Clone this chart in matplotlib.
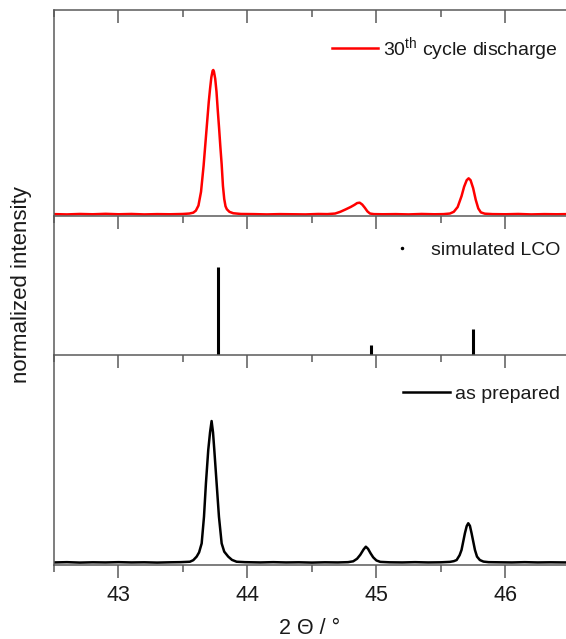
import matplotlib
matplotlib.use("Agg")
import matplotlib.pyplot as plt
from matplotlib.lines import Line2D
from matplotlib.ticker import MultipleLocator

plt.rcParams['font.family'] = ['Liberation Sans', 'DejaVu Sans']
plt.rcParams['mathtext.fontset'] = 'custom'
plt.rcParams['mathtext.rm'] = 'Liberation Sans'
plt.rcParams['mathtext.it'] = 'Liberation Sans:italic'

# ---------------- data ----------------
red_x = [42.50, 42.60, 42.70, 42.80, 42.90, 43.00, 43.10, 43.20, 43.30, 43.40,
         43.50, 43.55, 43.58, 43.60, 43.62, 43.64, 43.66, 43.68, 43.70, 43.71,
         43.72, 43.73, 43.735, 43.74, 43.75, 43.76, 43.77, 43.78, 43.79, 43.80,
         43.81, 43.82, 43.83, 43.84, 43.86, 43.89, 43.95, 44.05, 44.15, 44.25,
         44.35, 44.45, 44.55, 44.62, 44.68, 44.72, 44.76, 44.80, 44.83, 44.85,
         44.87, 44.89, 44.91, 44.93, 44.95, 44.98, 45.05, 45.15, 45.25, 45.35,
         45.45, 45.52, 45.57, 45.60, 45.63, 45.66, 45.68, 45.70, 45.715, 45.73,
         45.75, 45.77, 45.79, 45.81, 45.84, 45.90, 46.00, 46.10, 46.20, 46.30,
         46.40, 46.47]
red_y = [0.006, 0.004, 0.007, 0.005, 0.008, 0.005, 0.007, 0.004, 0.006, 0.005,
         0.007, 0.010, 0.016, 0.030, 0.065, 0.160, 0.340, 0.560, 0.780, 0.870,
         0.950, 0.995, 1.000, 0.990, 0.940, 0.850, 0.720, 0.600, 0.470, 0.350,
         0.200, 0.110, 0.060, 0.040, 0.022, 0.012, 0.007, 0.006, 0.004, 0.006,
         0.005, 0.004, 0.007, 0.006, 0.010, 0.022, 0.038, 0.055, 0.070, 0.082,
         0.085, 0.072, 0.050, 0.025, 0.010, 0.006, 0.005, 0.006, 0.004, 0.007,
         0.005, 0.006, 0.010, 0.022, 0.055, 0.130, 0.195, 0.240, 0.253, 0.240,
         0.185, 0.105, 0.045, 0.018, 0.009, 0.006, 0.005, 0.007, 0.004, 0.006,
         0.005, 0.006]

stick_pos = [43.769, 44.957, 45.746]
stick_h = [1.0, 0.114, 0.295]

black_x = [42.50, 42.60, 42.70, 42.80, 42.90, 43.00, 43.10, 43.20, 43.30, 43.40,
           43.48, 43.554, 43.58, 43.606, 43.625, 43.645, 43.663, 43.678, 43.696, 43.71,
           43.722, 43.733, 43.743, 43.761, 43.779, 43.80, 43.82, 43.851, 43.88, 43.916,
           43.98, 44.10, 44.20, 44.30, 44.40, 44.50, 44.60, 44.70, 44.78, 44.82,
           44.85, 44.875, 44.90, 44.918, 44.935, 44.955, 44.975, 45.00, 45.03, 45.10,
           45.20, 45.30, 45.40, 45.50, 45.57, 45.60, 45.622, 45.645, 45.66, 45.686,
           45.70, 45.712, 45.725, 45.738, 45.764, 45.78, 45.802, 45.83, 45.87, 45.95,
           46.05, 46.15, 46.25, 46.35, 46.47]
black_y = [0.004, 0.006, 0.003, 0.005, 0.004, 0.006, 0.004, 0.005, 0.003, 0.005,
           0.006, 0.009, 0.020, 0.045, 0.075, 0.138, 0.326, 0.561, 0.796, 0.920,
           1.000, 0.920, 0.796, 0.561, 0.326, 0.138, 0.080, 0.045, 0.022, 0.009,
           0.006, 0.004, 0.006, 0.004, 0.005, 0.003, 0.005, 0.004, 0.006, 0.012,
           0.030, 0.058, 0.095, 0.115, 0.100, 0.068, 0.040, 0.018, 0.008, 0.005,
           0.004, 0.006, 0.004, 0.005, 0.008, 0.013, 0.021, 0.055, 0.092, 0.209,
           0.260, 0.280, 0.262, 0.209, 0.092, 0.045, 0.021, 0.010, 0.006, 0.005,
           0.004, 0.006, 0.004, 0.005, 0.004]

xlim = (42.5, 46.47)

label_red = "30$^{\\mathrm{th}}$ cycle discharge"
label_sim = "simulated LCO"
label_black = "as prepared"

# ---------------- figure ----------------
W, H = 566, 639
fig = plt.figure(figsize=(W / 100, H / 100), dpi=100)

spine_c = '#5a5a5a'
text_c = '#1a1a1a'
MAJ, MIN = 9.4, 4.7


def frac_rect(top_px, bot_px):
    return [54 / W, (H - bot_px) / H, (W - 54) / W, (bot_px - top_px) / H]


def set_locators(axis):
    axis.set_major_locator(MultipleLocator(1))
    axis.set_minor_locator(MultipleLocator(0.5))


ax1 = fig.add_axes(frac_rect(10, 216))
ax2 = fig.add_axes(frac_rect(216, 355))
ax3 = fig.add_axes(frac_rect(355, 565))

for ax in (ax1, ax2, ax3):
    ax.set_xlim(*xlim)
    set_locators(ax.xaxis)
    ax.set_yticks([])
    ax.spines['right'].set_visible(False)
    for s in ('top', 'left', 'bottom'):
        ax.spines[s].set_color(spine_c)
        ax.spines[s].set_linewidth(1.1)
    ax.patch.set_alpha(0)

# top and middle panels: only inward ticks on the top edge
for ax in (ax1, ax2):
    ax.spines['bottom'].set_visible(False)
    ax.tick_params(axis='x', which='both', top=True, bottom=False,
                   labeltop=False, labelbottom=False, direction='in',
                   color=spine_c, width=1.1)
    ax.tick_params(axis='x', which='major', length=MAJ)
    ax.tick_params(axis='x', which='minor', length=MIN)

# bottom panel: outward labelled ticks at the bottom
ax3.tick_params(axis='x', which='both', top=False, bottom=True,
                labelbottom=True, direction='out', color=spine_c, width=1.1)
ax3.tick_params(axis='x', which='major', length=MAJ, pad=5, labelsize=15.5,
                labelcolor=text_c)
ax3.tick_params(axis='x', which='minor', length=MIN)
ax3.spines['top'].set_visible(False)

# inward ticks on the top edge of the bottom panel
sec = ax3.secondary_xaxis('top')
set_locators(sec.xaxis)
sec.tick_params(axis='x', which='both', direction='in', color=spine_c,
                width=1.1, labeltop=False)
sec.tick_params(axis='x', which='major', length=MAJ)
sec.tick_params(axis='x', which='minor', length=MIN)
sec.spines['top'].set_color(spine_c)
sec.spines['top'].set_linewidth(1.1)

ax1.plot(red_x, red_y, color='#ff0000', lw=1.8, label=label_red)
ax1.set_ylim(-0.007, 1.414)

ax2.vlines(stick_pos, 0, stick_h, color='black', lw=2.2)
ax2.set_ylim(0, 1.58)

ax3.plot(black_x, black_y, color='black', lw=1.8, label=label_black)
ax3.set_ylim(-0.014, 1.465)
ax3.set_xlabel("2 \u0398 / \u00b0", fontsize=15.5, color=text_c, labelpad=9)

fig.text(22 / W, 1 - 285 / H, "normalized intensity", rotation=90,
         ha='center', va='center', fontsize=16, color=text_c)

leg_kw = dict(frameon=False, fontsize=14, borderpad=0, borderaxespad=0,
              handlelength=2.37, handletextpad=0.28, labelcolor=text_c)
ax1.legend(handles=[Line2D([], [], color='#ff0000', lw=1.8)], labels=[label_red],
           loc='center right', bbox_to_anchor=(558 / W, 1 - 49 / H),
           bbox_transform=fig.transFigure, **leg_kw)
ax2.legend(handles=[Line2D([], [], color='black', lw=0, marker='.', markersize=3)],
           labels=[label_sim], loc='center right',
           bbox_to_anchor=(560 / W, 1 - 250 / H),
           bbox_transform=fig.transFigure, **leg_kw)
ax3.legend(handles=[Line2D([], [], color='black', lw=1.8)], labels=[label_black],
           loc='center right', bbox_to_anchor=(560 / W, 1 - 394 / H),
           bbox_transform=fig.transFigure, **leg_kw)

fig.savefig("out.png", dpi=100)
